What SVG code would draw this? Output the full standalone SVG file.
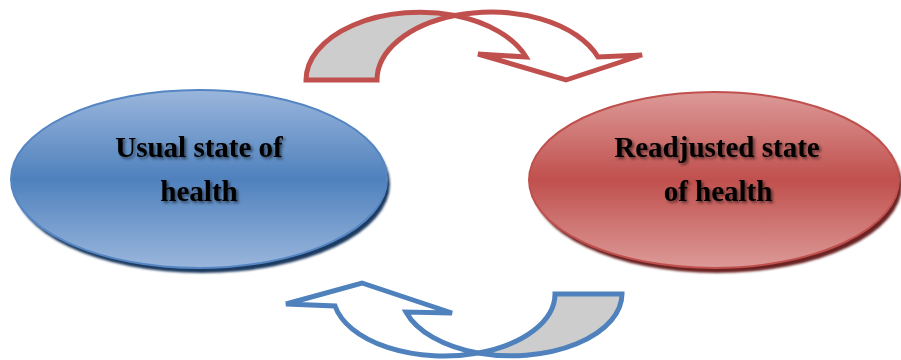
<svg xmlns="http://www.w3.org/2000/svg" width="901" height="360" viewBox="0 0 901 360">
<defs>
<linearGradient id="gBlue" x1="0" y1="0" x2="0" y2="1">
<stop offset="0" stop-color="#9ab6dc"/>
<stop offset="0.5" stop-color="#4f81bd"/>
<stop offset="1" stop-color="#9ab6dc"/>
</linearGradient>
<linearGradient id="gRed" x1="0" y1="0" x2="0" y2="1">
<stop offset="0" stop-color="#dc9a98"/>
<stop offset="0.5" stop-color="#c0504d"/>
<stop offset="1" stop-color="#dc9a98"/>
</linearGradient>
<filter id="soft" x="-10%" y="-10%" width="120%" height="130%">
<feGaussianBlur stdDeviation="1.2"/>
</filter>
<filter id="txtShadow" x="-10%" y="-30%" width="120%" height="160%">
<feGaussianBlur in="SourceAlpha" stdDeviation="1.5" result="b"/>
<feOffset in="b" dx="2" dy="2" result="o"/>
<feComponentTransfer in="o" result="s"><feFuncA type="linear" slope="0.55"/></feComponentTransfer>
<feMerge><feMergeNode in="s"/><feMergeNode in="SourceGraphic"/></feMerge>
</filter>
</defs>
<style>
.lbl{font-family:"Liberation Serif","Times New Roman",serif;font-weight:bold;font-size:29px;fill:#000;text-anchor:middle}
.redArrow{stroke:#c0504d;stroke-width:5;stroke-linejoin:miter}
.blueArrow{stroke:#4f81bd;stroke-width:5;stroke-linejoin:miter}
.back{fill:#cdcdcd}
.front{fill:#ffffff}
</style>

<g id="connectors">
<g id="arrow-top">
<path class="redArrow front" d="M455,15.5 A114,68 0 0 1 598,57 L642,55 L566,80 L478,54 L526,57 A114,68 0 0 0 455,15.5 Z"/>
<path class="redArrow back" d="M306,80 A114,68 0 0 1 455,15.5 A114,68 0 0 0 377,80 Z"/>
</g>
<g id="arrow-bottom">
<path class="blueArrow front" d="M478,353 A111,62 0 0 1 335,306 L286,304 L362,283 L452,313 L406,312 A111,62 0 0 0 478,353 Z"/>
<path class="blueArrow back" d="M622,294 A111,62 0 0 1 478,353 A111,62 0 0 0 555,294 Z"/>
</g>
</g>

<g id="usual-state">
<ellipse cx="202" cy="184" rx="188" ry="89" fill="#1f3a60" filter="url(#soft)"/>
<ellipse cx="199" cy="179" rx="188" ry="89" fill="url(#gBlue)" stroke="#5585c3" stroke-width="2"/>
<g filter="url(#txtShadow)">
<text class="lbl" x="199" y="157">Usual state of</text>
<text class="lbl" x="199" y="201">health</text>
</g>
</g>

<g id="readjusted-state">
<ellipse cx="717" cy="185" rx="185" ry="88" fill="#6b2422" filter="url(#soft)"/>
<ellipse cx="714" cy="180" rx="185" ry="88" fill="url(#gRed)" stroke="#c0504d" stroke-width="2"/>
<g filter="url(#txtShadow)">
<text class="lbl" x="717" y="157">Readjusted state</text>
<text class="lbl" x="718" y="201">of health</text>
</g>
</g>
</svg>
